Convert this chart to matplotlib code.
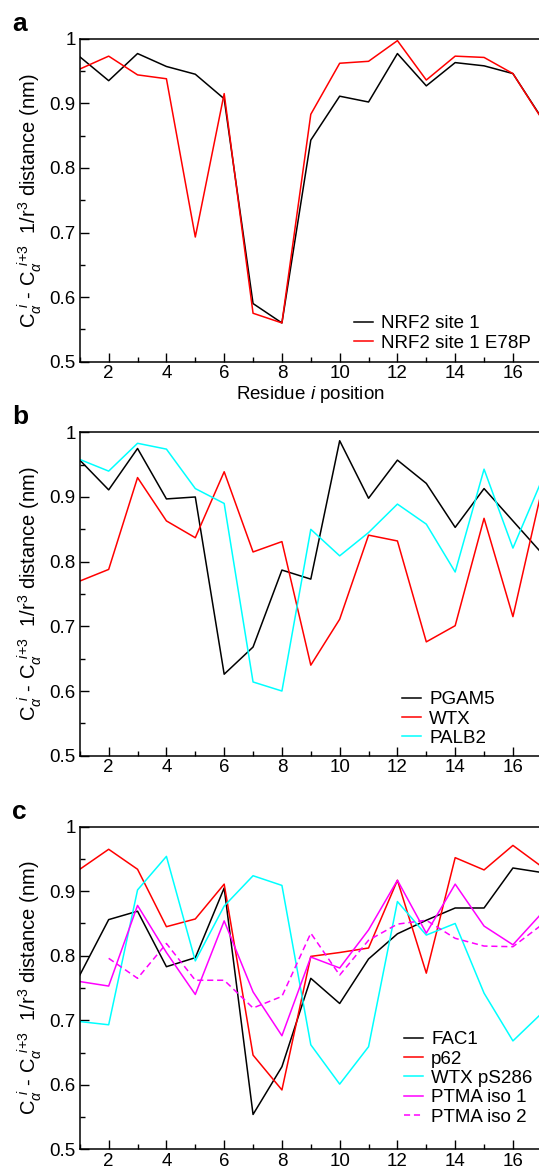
import matplotlib

matplotlib.use("Agg")
import matplotlib.pyplot as plt
from matplotlib.ticker import MultipleLocator, FuncFormatter

plt.rcParams["font.family"] = ["Liberation Sans", "DejaVu Sans"]
plt.rcParams["mathtext.fontset"] = "custom"
plt.rcParams["mathtext.rm"] = "Liberation Sans"
plt.rcParams["mathtext.it"] = "Liberation Sans:italic"
plt.rcParams["mathtext.bf"] = "Liberation Sans:bold"

# residue positions
res = list(range(1, 18))
res_iso2 = list(range(2, 18))

# panel a
nrf2_site1 = [0.972, 0.935, 0.977, 0.957, 0.945, 0.907, 0.590, 0.560, 0.843,
              0.911, 0.902, 0.977, 0.927, 0.963, 0.958, 0.946, 0.877]
nrf2_e78p = [0.953, 0.973, 0.944, 0.938, 0.693, 0.915, 0.575, 0.560, 0.883,
             0.962, 0.965, 0.997, 0.936, 0.973, 0.971, 0.946, 0.876]

# panel b
pgam5 = [0.957, 0.911, 0.975, 0.897, 0.900, 0.626, 0.668, 0.787, 0.773,
         0.987, 0.898, 0.957, 0.921, 0.853, 0.913, 0.863, 0.813]
wtx = [0.770, 0.788, 0.930, 0.863, 0.837, 0.939, 0.815, 0.831, 0.640,
       0.711, 0.841, 0.832, 0.676, 0.701, 0.867, 0.715, 0.911]
palb2 = [0.958, 0.940, 0.983, 0.974, 0.913, 0.890, 0.614, 0.600, 0.850,
         0.809, 0.845, 0.889, 0.858, 0.784, 0.943, 0.821, 0.926]

# panel c
fac1 = [0.770, 0.856, 0.869, 0.783, 0.797, 0.905, 0.554, 0.628, 0.765,
        0.726, 0.795, 0.834, 0.855, 0.874, 0.874, 0.936, 0.929]
p62 = [0.934, 0.965, 0.934, 0.845, 0.857, 0.911, 0.646, 0.592, 0.799,
       0.805, 0.812, 0.917, 0.773, 0.952, 0.933, 0.971, 0.938]
wtx_ps286 = [0.698, 0.693, 0.902, 0.954, 0.792, 0.877, 0.924, 0.909, 0.662,
             0.601, 0.659, 0.884, 0.832, 0.850, 0.742, 0.668, 0.711]
ptma_iso1 = [0.760, 0.753, 0.878, 0.805, 0.740, 0.854, 0.744, 0.676, 0.798,
             0.781, 0.840, 0.917, 0.835, 0.911, 0.846, 0.817, 0.866]
ptma_iso2 = [0.796, 0.765, 0.819, 0.762, 0.762, 0.719, 0.737, 0.835,
             0.770, 0.824, 0.849, 0.855, 0.827, 0.815, 0.814, 0.848]

W, H = 539, 1166
fig = plt.figure(figsize=(W / 100, H / 100), dpi=100)

ylab = (r"$\mathrm{C}_{\alpha}^{\ \,i}$ - $\mathrm{C}_{\alpha}^{\ \,i\!+\!3}$"
        r"  1/r$^{3}$ distance (nm)")
lw = 1.1


def make_axes(top_px, bot_px, letter):
    left, right = 79.8, 541.8
    ax = fig.add_axes([left / W, 1 - bot_px / H, (right - left) / W,
                       (bot_px - top_px) / H])
    ax.set_xlim(1, 17)
    ax.set_ylim(0.5, 1.0)
    ax.xaxis.set_major_locator(MultipleLocator(2))
    ax.xaxis.set_minor_locator(MultipleLocator(1))
    ax.yaxis.set_major_locator(MultipleLocator(0.1))
    ax.yaxis.set_minor_locator(MultipleLocator(0.05))
    ax.yaxis.set_major_formatter(FuncFormatter(lambda v, p: f"{v:g}"))
    ax.tick_params(which="major", direction="in", length=6.5, width=1.0,
                   labelsize=13.5)
    ax.tick_params(which="minor", direction="in", length=3.3, width=1.0)
    ax.tick_params(axis="x", pad=2.5)
    ax.tick_params(axis="y", pad=3)
    for s in ax.spines.values():
        s.set_linewidth(1.1)
    ax.set_ylabel(ylab, fontsize=14.5)
    ax.yaxis.set_label_coords(-0.078, 0.5)
    fig.text(12 / W, 1 - (top_px - 8) / H, letter, fontsize=19,
             fontweight="bold", va="baseline")
    return ax


def add_legend(ax, x_px, top_px):
    ax.legend(loc="upper left", bbox_to_anchor=(x_px / W, 1 - top_px / H),
              bbox_transform=fig.transFigure, frameon=False, fontsize=13.5,
              borderpad=0, borderaxespad=0, handlelength=1.0,
              handletextpad=0.45, labelspacing=0.12)


# a
ax = make_axes(38.7, 361.7, "a")
ax.plot(res, nrf2_site1, color="black", lw=lw, label="NRF2 site 1")
ax.plot(res, nrf2_e78p, color="red", lw=lw, label="NRF2 site 1 E78P")
ax.set_xlabel("Residue $i$ position", fontsize=13.5, labelpad=1)
add_legend(ax, 354, 315)

# b
ax = make_axes(432.3, 755.7, "b")
ax.plot(res, pgam5, color="black", lw=lw, label="PGAM5")
ax.plot(res, wtx, color="red", lw=lw, label="WTX")
ax.plot(res, palb2, color="cyan", lw=lw, label="PALB2")
add_legend(ax, 402, 691)

# c
ax = make_axes(826.7, 1149.3, "c")
ax.plot(res, fac1, color="black", lw=lw, label="FAC1")
ax.plot(res, p62, color="red", lw=lw, label="p62")
ax.plot(res, wtx_ps286, color="cyan", lw=lw, label="WTX pS286")
ax.plot(res, ptma_iso1, color="magenta", lw=lw, label="PTMA iso 1")
ax.plot(res_iso2, ptma_iso2, color="magenta", lw=lw, ls=(0, (4, 2.5)),
        label="PTMA iso 2")
add_legend(ax, 404, 1031)

fig.savefig("out.png", dpi=100)
